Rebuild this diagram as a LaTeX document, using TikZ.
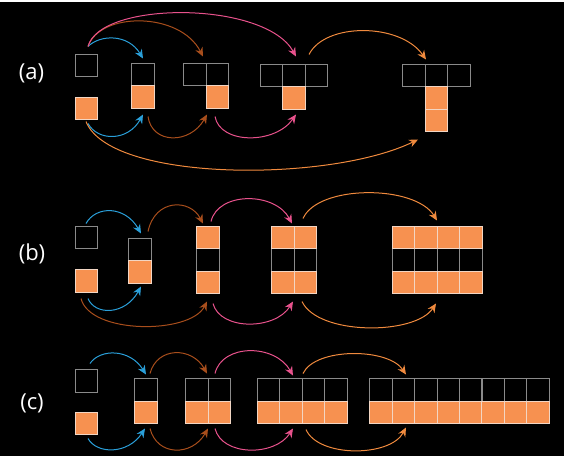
\documentclass[tikz,border=0pt]{standalone}
\usepackage{fontspec}
\setmainfont{Open Sans}
\usepackage{xcolor}
\usetikzlibrary{arrows.meta}
\definecolor{cellor}{HTML}{F79150}
\definecolor{cellline}{HTML}{F2D6C4}
\definecolor{gridgray}{HTML}{8A8A8A}
\definecolor{arblue}{HTML}{2A9FD9}
\definecolor{arbrown}{HTML}{A84E1C}
\definecolor{arpink}{HTML}{E8528C}
\definecolor{arorange}{HTML}{F08A3E}

\begin{document}
\begin{tikzpicture}[x=1pt, y=1pt,
  empty/.style={draw=gridgray, line width=1pt, minimum size=22.5pt, inner sep=0pt, outer sep=0pt},
  filled/.style={empty, fill=cellor, draw=cellline},
  arr/.style={line width=1pt, -{Stealth[length=9pt,width=8pt,inset=3pt]}},
  lbl/.style={text=white, font=\fontsize{22}{26}\selectfont}]
\fill[black] (0,0) rectangle (564,-454);

% row (a)
\node[lbl] (la) at (31.5,-72) {(a)};
\node[empty] (a0t) at (86.5,-64) {};
\node[filled] (a0b) at (86.5,-107) {};
\node[empty] (a1t) at (143,-73) {};
\node[filled] (a1b) at (143,-95.5) {};
\foreach \x [count=\i] in {195, 217.5}
  \node[empty] (a2t\i) at (\x,-73) {};
\node[filled] (a2b) at (217.5,-95.5) {};
\foreach \x [count=\i] in {271.5, 294, 316.5}
  \node[empty] (a3t\i) at (\x,-74) {};
\node[filled] (a3b) at (294,-96.5) {};
\foreach \x [count=\i] in {414, 436.5, 459}
  \node[empty] (a4t\i) at (\x,-74) {};
\node[filled] (a4b1) at (436.5,-96.5) {};
\node[filled] (a4b2) at (436.5,-119) {};

\coordinate (aSt) at (88,-45);
\coordinate (aSb) at (88,-122);
\coordinate (a1in) at (143,-57);
\coordinate (a1ib) at (143,-113);
\coordinate (a1ob) at (148,-115);
\coordinate (a2in) at (203,-55);
\coordinate (a2ib) at (207,-113);
\coordinate (a2ob) at (215,-115);
\coordinate (a3in) at (296,-55);
\coordinate (a3ib) at (296,-113);
\coordinate (a3ot) at (309,-53);
\coordinate (a4in) at (426,-58);
\coordinate (aSl) at (86,-120);
\coordinate (a4ib) at (418,-138);

\draw[arr, arblue] (aSt) .. controls +(12,12) and +(-15,25) .. (a1in);
\draw[arr, arblue] (aSb) .. controls +(10,-18) and +(-15,-27) .. (a1ib);
\draw[arr, arbrown] (aSt) .. controls +(12,35) and +(-23,45) .. (a2in);
\draw[arr, arbrown] (a1ob) .. controls +(4,-28) and +(-17,-30) .. (a2ib);
\draw[arr, arpink] (aSt) .. controls +(12,46) and +(-31,56) .. (a3in);
\draw[arr, arpink] (a2ob) .. controls +(5,-28) and +(-21,-30) .. (a3ib);
\draw[arr, arorange] (a3ot) .. controls +(16,32) and +(-26,37) .. (a4in);
\draw[arr, arorange] (aSl) .. controls +(24,-61) and +(-88,-43) .. (a4ib);

% row (b)
\node[lbl] (lb) at (32,-252) {(b)};
\node[empty] (b0t) at (86.5,-236) {};
\node[filled] (b0b) at (86.5,-279.5) {};
\node[empty] (b1t) at (140,-248) {};
\node[filled] (b1b) at (140,-270.5) {};
\foreach \x [count=\i] in {208, 283, 305.5, 403.5, 426, 448.5, 471}
  \node[empty] (bm\i) at (\x,-258.5) {};
\foreach \x [count=\i] in {208, 283, 305.5, 403.5, 426, 448.5, 471} {
  \node[filled] (bt\i) at (\x,-236) {};
  \node[filled] (bb\i) at (\x,-281) {};
}

\coordinate (bSt) at (86,-222);
\coordinate (bSb) at (88,-297);
\coordinate (bSl) at (81,-297);
\coordinate (b1in) at (141,-232);
\coordinate (b1ib) at (141,-285);
\coordinate (b1ot) at (148,-230);
\coordinate (b2in) at (203,-222);
\coordinate (b2ib) at (207,-300);
\coordinate (b2ot) at (211,-220);
\coordinate (b2ob) at (213,-302);
\coordinate (b3in) at (292,-222);
\coordinate (b3ib) at (293,-300);
\coordinate (b3ot) at (303,-217);
\coordinate (b3ob) at (302,-300);
\coordinate (b4in) at (437,-219);
\coordinate (b4ib) at (436,-302);

\draw[arr, arblue] (bSt) .. controls +(10,18) and +(-16,28) .. (b1in);
\draw[arr, arblue] (bSb) .. controls +(7,-17) and +(-16,-29) .. (b1ib);
\draw[arr, arbrown] (b1ot) .. controls +(7,33) and +(-13,25) .. (b2in);
\draw[arr, arbrown] (bSl) .. controls +(9,-36) and +(-17,-33) .. (b2ib);
\draw[arr, arpink] (b2ot) .. controls +(7,30) and +(-17,32) .. (b3in);
\draw[arr, arpink] (b2ob) .. controls +(7,-27) and +(-18,-29) .. (b3ib);
\draw[arr, arorange] (b3ot) .. controls +(15,34) and +(-22,36) .. (b4in);
\draw[arr, arorange] (b3ob) .. controls +(16,-34) and +(-21,-32) .. (b4ib);

% row (c)
\node[lbl] (lc) at (32,-402) {(c)};
\node[empty] (c0t) at (86.5,-379.5) {};
\node[filled] (c0b) at (86.5,-422) {};
\foreach \x [count=\i] in {146, 197, 219.5, 268.5, 291, 313.5, 336}
  \node[empty] (ct\i) at (\x,-388.5) {};
\foreach \i in {0,...,7}
  \node[empty] (cr\i) at (381.2+22.4*\i,-388.5) {};
\foreach \x [count=\i] in {146, 197, 219.5, 268.5, 291, 313.5, 336}
  \node[filled] (cb\i) at (\x,-411) {};
\foreach \i in {0,...,7}
  \node[filled] (cs\i) at (381.2+22.4*\i,-411) {};

\coordinate (cSt) at (90,-362);
\coordinate (cSb) at (88,-437);
\coordinate (c1in) at (146,-373);
\coordinate (c1ib) at (145,-427);
\coordinate (c1ot) at (150,-372);
\coordinate (c1ob) at (150,-427);
\coordinate (c2in) at (207,-372);
\coordinate (c2ib) at (208,-427);
\coordinate (c2ot) at (215,-372);
\coordinate (c2ob) at (215,-427);
\coordinate (c3in) at (293,-374);
\coordinate (c3ib) at (293,-427);
\coordinate (c3ot) at (303,-372);
\coordinate (c3ob) at (306,-428);
\coordinate (c4in) at (406,-373);
\coordinate (c4ib) at (406,-426);

\draw[arr, arblue] (cSt) .. controls +(10,15) and +(-16,26) .. (c1in);
\draw[arr, arblue] (cSb) .. controls +(9,-16) and +(-17,-26) .. (c1ib);
\draw[arr, arbrown] (c1ot) .. controls +(7,27) and +(-15,27) .. (c2in);
\draw[arr, arbrown] (c1ob) .. controls +(7,-28) and +(-16,-28) .. (c2ib);
\draw[arr, arpink] (c2ot) .. controls +(7,30) and +(-18,32) .. (c3in);
\draw[arr, arpink] (c2ob) .. controls +(7,-28) and +(-18,-28) .. (c3ib);
\draw[arr, arorange] (c3ot) .. controls +(12,26) and +(-18,27) .. (c4in);
\draw[arr, arorange] (c3ob) .. controls +(12,-28) and +(-16,-30) .. (c4ib);
\end{tikzpicture}
\end{document}
